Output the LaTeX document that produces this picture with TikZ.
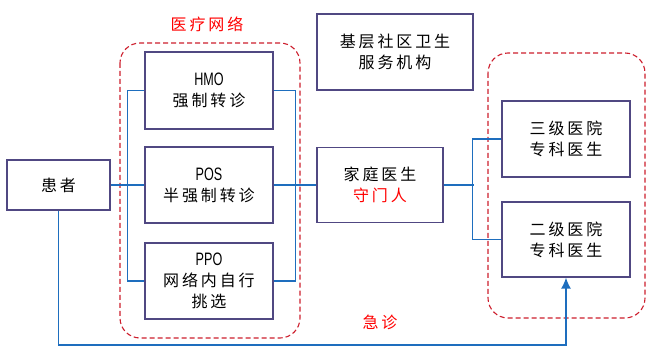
\documentclass[tikz,border=0pt]{standalone}
\usepackage{fontspec}
\setmainfont{Noto Sans CJK SC}[LetterSpace=18]
\newfontfamily\abbrfont{Liberation Sans}[FakeStretch=0.7]
\newcommand{\abbr}[1]{{\abbrfont\fontsize{18}{20}\selectfont #1}}
\usepackage{tikz}
\usetikzlibrary{arrows.meta}
\definecolor{boxline}{RGB}{80,72,130}
\definecolor{linkblue}{RGB}{30,110,190}
\definecolor{netred}{RGB}{205,30,45}
\tikzset{%
  box/.style = {draw=boxline, line width=1.3pt, align=center,
    inner sep=0pt, font=\fontsize{16}{21}\selectfont},
  link/.style = {draw=linkblue, line width=1.3pt},
  group/.style = {draw=netred, dashed, line width=1.1pt,
    rounded corners=20pt, dash pattern=on 5pt off 3pt},
  redtext/.style = {text=red, font=\fontsize{16}{20}\selectfont}
}
\begin{document}
\begin{tikzpicture}[x=1pt,y=-1pt]
  \useasboundingbox (0,0) rectangle (646,347);
  % dashed groups
  \draw[group] (120,43) rectangle (300,338);
  \draw[group] (488,53) rectangle (645,318);
  \node[redtext] (netlabel) at (207,24) {医疗网络};
  \node[redtext] (erlabel) at (380,322) {急诊};
  % boxes
  \node[box, minimum width=103pt, minimum height=50pt] (patient) at (58.5,185) {患者};
  \node[box, minimum width=128pt, minimum height=77pt] (hmo) at (209,90.5) {\abbr{HMO}\\强制转诊};
  \node[box, minimum width=128pt, minimum height=76pt] (pos) at (209,185) {\abbr{POS}\\半强制转诊};
  \node[box, minimum width=128pt, minimum height=76pt] (ppo) at (209,281) {\abbr{PPO}\\网络内自行\\挑选};
  \node[box, minimum width=126pt, minimum height=75pt] (family) at (380,185) {家庭医生\\\textcolor{red}{守门人}};
  \node[box, minimum width=156pt, minimum height=76pt] (base) at (395,52) {基层社区卫生\\服务机构};
  \node[box, minimum width=128pt, minimum height=76pt] (third) at (566,139) {三级医院\\专科医生};
  \node[box, minimum width=128pt, minimum height=75pt] (second) at (566,239.5) {二级医院\\专科医生};
  % connectors
  \draw[link] (hmo.west) -- ++(-17,0) |- (ppo.west);
  \draw[link] (patient.east) -- (pos.west);
  \draw[link] (hmo.east) -- ++(22,0) |- (ppo.east);
  \draw[link] (pos.east) -- (family.west);
  \draw[link] (third.west) -- ++(-29,0) |- (second.west);
  \draw[link] (family.east) -- ++(30,0);
  \coordinate (er) at (59,345);
  \draw[link, -{Latex[length=11pt,width=10pt]}] (patient.south) -- (patient.south |- er) -| (second.south);
\end{tikzpicture}
\end{document}
